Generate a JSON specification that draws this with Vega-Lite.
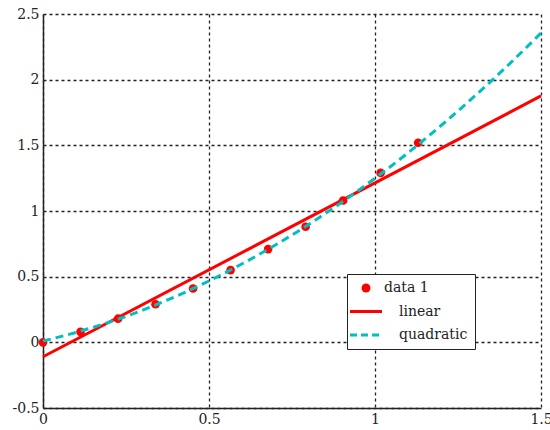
{
  "$schema": "https://vega.github.io/schema/vega-lite/v6.json",
  "autosize": "none",
  "width": 498,
  "height": 394,
  "padding": {"left": 43, "top": 14, "right": 9, "bottom": 22},
  "background": "white",
  "config": {
    "view": {"stroke": null},
    "font": "DejaVu Serif",
    "axis": {
      "grid": true,
      "gridColor": "#222222",
      "gridDash": [3, 3],
      "gridWidth": 1.3,
      "gridOpacity": 1,
      "domainColor": "#222222",
      "domainWidth": 1.5,
      "ticks": false,
      "labelFont": "DejaVu Serif",
      "labelFontSize": 14,
      "labelColor": "#222222",
      "title": null
    }
  },
  "datasets": {
    "pts": [
      {"x": 0, "y": 0, "series": "data 1"},
      {"x": 0.113, "y": 0.08, "series": "data 1"},
      {"x": 0.226, "y": 0.18, "series": "data 1"},
      {"x": 0.339, "y": 0.29, "series": "data 1"},
      {"x": 0.452, "y": 0.41, "series": "data 1"},
      {"x": 0.565, "y": 0.55, "series": "data 1"},
      {"x": 0.678, "y": 0.71, "series": "data 1"},
      {"x": 0.791, "y": 0.88, "series": "data 1"},
      {"x": 0.904, "y": 1.08, "series": "data 1"},
      {"x": 1.017, "y": 1.29, "series": "data 1"},
      {"x": 1.13, "y": 1.52, "series": "data 1"}
    ],
    "lin": [
      {"x": 0, "y": -0.11, "series": "linear"},
      {"x": 1.5, "y": 1.876, "series": "linear"}
    ],
    "quad": [
      {"x": 0, "y": 0.01, "series": "quadratic"},
      {"x": 0.1, "y": 0.076, "series": "quadratic"},
      {"x": 0.2, "y": 0.154, "series": "quadratic"},
      {"x": 0.3, "y": 0.245, "series": "quadratic"},
      {"x": 0.4, "y": 0.35, "series": "quadratic"},
      {"x": 0.5, "y": 0.467, "series": "quadratic"},
      {"x": 0.6, "y": 0.598, "series": "quadratic"},
      {"x": 0.7, "y": 0.741, "series": "quadratic"},
      {"x": 0.8, "y": 0.897, "series": "quadratic"},
      {"x": 0.9, "y": 1.067, "series": "quadratic"},
      {"x": 1.0, "y": 1.249, "series": "quadratic"},
      {"x": 1.1, "y": 1.444, "series": "quadratic"},
      {"x": 1.2, "y": 1.653, "series": "quadratic"},
      {"x": 1.3, "y": 1.874, "series": "quadratic"},
      {"x": 1.4, "y": 2.108, "series": "quadratic"},
      {"x": 1.5, "y": 2.355, "series": "quadratic"}
    ]
  },
  "encoding": {
    "x": {
      "field": "x", "type": "quantitative",
      "scale": {"domain": [0, 1.5], "nice": false, "zero": false},
      "axis": {"values": [0, 0.5, 1, 1.5], "labelExpr": "'' + datum.value", "labelPadding": 4, "labelFlush": false}
    },
    "y": {
      "field": "y", "type": "quantitative",
      "scale": {"domain": [-0.5, 2.5], "nice": false, "zero": false},
      "axis": {"values": [-0.5, 0, 0.5, 1, 1.5, 2, 2.5], "labelExpr": "'' + datum.value", "labelPadding": 4, "labelFlush": false}
    },
    "color": {
      "field": "series", "type": "nominal",
      "scale": {"domain": ["data 1", "linear", "quadratic"], "range": ["#ff0000", "#ff0000", "#00bfbf"]}
    }
  },
  "layer": [
    {
      "data": {"name": "pts"},
      "mark": {"type": "point", "filled": true, "shape": "circle", "size": 75, "opacity": 1},
      "encoding": {
        "color": {
          "field": "series", "type": "nominal",
          "scale": {"domain": ["data 1", "linear", "quadratic"], "range": ["#ff0000", "#ff0000", "#00bfbf"]},
          "legend": {
            "title": null,
            "orient": "none",
            "legendX": 304,
            "legendY": 260,
            "direction": "vertical",
            "fillColor": "white",
            "strokeColor": "#222222",
            "padding": 7,
            "symbolOffset": 5,
            "symbolSize": 400,
            "symbolType": "M-1.6,0H1.6",
            "symbolStrokeWidth": 3,
            "labelFont": "DejaVu Serif",
            "labelFontSize": 14,
            "labelColor": "#222222",
            "rowPadding": 9.5,
            "labelOffset": 26,
            "encoding": {
              "symbols": {
                "shape": {"value": {"expr": "datum.value === 'data 1' ? 'circle' : 'M-1.6,0H1.6'"}},
                "size": {"value": {"expr": "datum.value === 'data 1' ? 80 : 400"}},
                "fill": {"value": {"expr": "datum.value === 'data 1' ? '#ff0000' : 'transparent'"}},
                "stroke": {"value": {"expr": "datum.value === 'quadratic' ? '#00bfbf' : '#ff0000'"}},
                "strokeWidth": {"value": {"expr": "datum.value === 'data 1' ? 0 : 3"}},
                "strokeDash": {"value": {"expr": "datum.value === 'quadratic' ? [7, 4] : [1, 0]"}},
                "opacity": {"value": 1}
              },
              "labels": {
                "dx": {"value": {"expr": "datum.value === 'data 1' ? -15 : 0"}}
              }
            }
          }
        }
      }
    },
    {
      "data": {"name": "lin"},
      "mark": {"type": "line", "strokeWidth": 3},
      "encoding": {"color": {"field": "series", "type": "nominal", "legend": null}}
    },
    {
      "data": {"name": "quad"},
      "mark": {"type": "line", "strokeWidth": 3, "strokeDash": [8, 5], "interpolate": "monotone"},
      "encoding": {"color": {"field": "series", "type": "nominal", "legend": null}}
    }
  ]
}
